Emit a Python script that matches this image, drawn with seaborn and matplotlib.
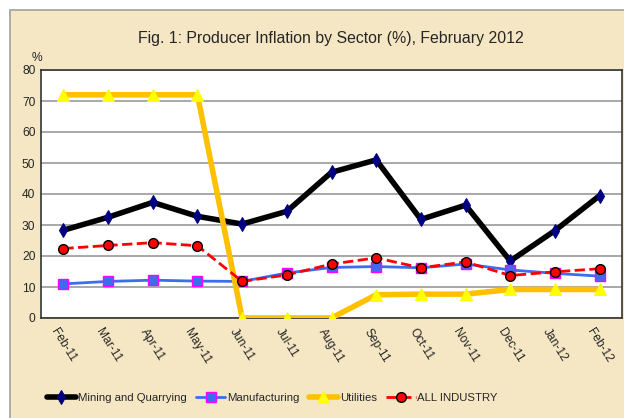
import pandas as pd
import matplotlib.pyplot as plt
import seaborn as sns
from matplotlib.patches import Rectangle
from matplotlib import font_manager

# Data
months = ["Feb-11", "Mar-11", "Apr-11", "May-11", "Jun-11", "Jul-11", "Aug-11",
          "Sep-11", "Oct-11", "Nov-11", "Dec-11", "Jan-12", "Feb-12"]
mining = [28.3, 32.5, 37.3, 32.8, 30.3, 34.4, 47.0, 51.0, 31.8, 36.4, 18.4, 28.2, 39.5]
manufacturing = [11.0, 11.8, 12.2, 11.9, 11.8, 14.5, 16.3, 16.6, 16.2, 17.4, 15.5, 14.4, 13.5]
utilities = [72.0, 72.0, 72.0, 72.0, 0.0, 0.0, 0.0, 7.5, 7.7, 7.7, 9.2, 9.2, 9.2]
all_industry = [22.4, 23.4, 24.3, 23.3, 11.8, 13.9, 17.4, 19.4, 16.2, 18.1, 13.7, 14.9, 15.9]

data = pd.DataFrame({
    "pos": range(len(months)),
    "Mining and Quarrying": mining,
    "Manufacturing": manufacturing,
    "Utilities": utilities,
    "ALL INDUSTRY": all_industry,
})

sns.set_style("white")
installed = {f.name for f in font_manager.fontManager.ttflist}
narrow = [n for n in ["Liberation Sans Narrow", "DejaVu Sans Condensed"] if n in installed]
plt.rcParams['font.family'] = narrow + ['Liberation Sans', 'DejaVu Sans']
# fonts are wider if no narrow face is available
scale = 1.0 if narrow else 0.82

bg = "#f6e7c4"
fig = plt.figure(figsize=(6.24, 4.18), dpi=100)
fig.patch.set_facecolor("white")
# parchment panel with grey border
fig.patches.append(Rectangle((10 / 624, -0.01), 1.0, (418 - 10) / 418 + 0.01,
                             transform=fig.transFigure, facecolor=bg,
                             edgecolor="#a0a0a0", linewidth=1.2, zorder=-5))

ax = fig.add_axes([41 / 624, 100 / 418, 581 / 624, 248 / 418])
ax.set_zorder(2)
ax.set_facecolor("white")

# series styles
sns.lineplot(data=data, x="pos", y="Mining and Quarrying", ax=ax, color="black",
             linewidth=4, marker="d", markersize=7, markerfacecolor="#000080",
             markeredgecolor="#000080", label="Mining and Quarrying", zorder=3)
sns.lineplot(data=data, x="pos", y="Manufacturing", ax=ax, color="#3c6cf0",
             linewidth=2, marker="s", markersize=6.5, markerfacecolor="#3c6cf0",
             markeredgecolor="#ff00ff", markeredgewidth=1, label="Manufacturing", zorder=4)
sns.lineplot(data=data, x="pos", y="Utilities", ax=ax, color="#ffc000",
             linewidth=4, marker="^", markersize=8.5, markerfacecolor="#ffff00",
             markeredgecolor="#ffff00", label="Utilities", zorder=5)
sns.lineplot(data=data, x="pos", y="ALL INDUSTRY", ax=ax, color="red",
             linewidth=2, linestyle="--", marker="o", markersize=7,
             markerfacecolor="red", markeredgecolor="black", markeredgewidth=1,
             label="ALL INDUSTRY", zorder=6)

ax.set_xlim(-0.5, len(months) - 0.5)
ax.set_ylim(0, 80)
ax.set_yticks(range(0, 81, 10))
ax.set_yticklabels([str(v) for v in range(0, 81, 10)], fontsize=10.5 * scale)
ax.set_xticks(range(len(months)))
ax.set_xticklabels(months, rotation=-58, ha="center", va="top", fontsize=10.5 * scale)
ax.tick_params(axis="both", length=0, pad=4)
ax.tick_params(axis="x", pad=6)
ax.yaxis.grid(True, color="#999999", linewidth=1.2)
ax.set_axisbelow(True)
for side in ax.spines.values():
    side.set_color("#333333")
    side.set_linewidth(1.2)
ax.set_xlabel("")
ax.set_ylabel("")

fig.text(37 / 624, 1 - 58 / 418, "%", fontsize=10.5 * scale, ha="center", va="center")
fig.text(331 / 624, 1 - 38 / 418, "Fig. 1: Producer Inflation by Sector (%), February 2012",
         fontsize=14 * scale, ha="center", va="center")

ax.legend(loc="center", bbox_to_anchor=(0.398, (398 - 318) / -248), ncol=4,
          frameon=False, fontsize=10 * scale, handlelength=2.6, handletextpad=0.15,
          columnspacing=0.8, bbox_transform=ax.transAxes)

fig.savefig("out.png", dpi=100, facecolor=fig.get_facecolor())
